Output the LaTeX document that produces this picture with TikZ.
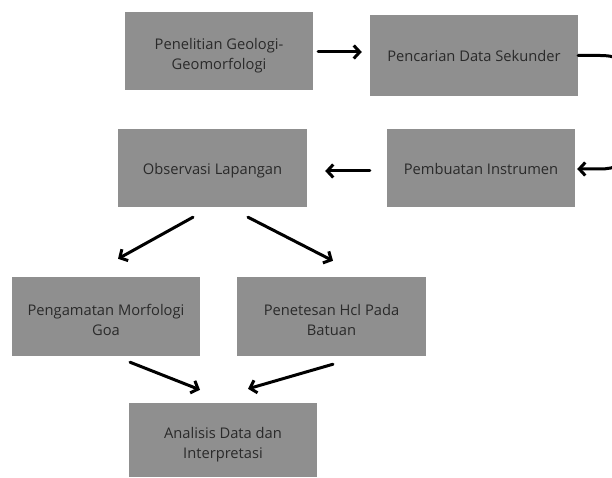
\documentclass[tikz,border=0pt]{standalone}
\usepackage{fontspec}
\setmainfont{Open Sans}
\usetikzlibrary{arrows.meta,calc}
\definecolor{boxgray}{HTML}{8F8F8F}
\definecolor{txtgray}{HTML}{2A2A2A}
\tikzset{
  box/.style={fill=boxgray, draw=none, inner sep=0pt, align=center,
    text=txtgray, font=\fontsize{14.7}{20}\selectfont,
    text height=16.5pt, text depth=3.5pt},
  boxtwo/.style={box, text height=41pt, text depth=3.5pt},
  conn/.style={line width=3pt, black, line cap=round, line join=round,
    -{Straight Barb[length=6pt,width=13pt,line width=3pt]}}
}
\begin{document}
\begin{tikzpicture}[x=1pt,y=-1pt]
\useasboundingbox (0,0) rectangle (612,478);
\fill[white] (0,0) rectangle (612,478);
\node[boxtwo, minimum width=188pt, minimum height=78pt] (b1) at (219,51) {Penelitian Geologi-\\Geomorfologi};
\node[box, minimum width=208pt, minimum height=81pt] (b2) at (474,55.5) {Pencarian Data Sekunder};
\node[box, minimum width=189pt, minimum height=78pt] (b3) at (212.5,168) {Observasi Lapangan};
\node[box, minimum width=188pt, minimum height=78pt] (b4) at (481,168) {Pembuatan Instrumen};
\node[boxtwo, minimum width=188pt, minimum height=79pt] (b5) at (106,316.5) {Pengamatan Morfologi\\Goa};
\node[boxtwo, minimum width=189pt, minimum height=79pt] (b6) at (331.5,316.5) {Penetesan Hcl Pada\\Batuan};
\node[boxtwo, minimum width=188pt, minimum height=74pt] (b7) at (223,440) {Analisis Data dan\\Interpretasi};

\draw[conn, shorten <=5pt, shorten >=8pt] ([yshift=-1pt]b1.east) -- ([yshift=-1pt]b1.east -| b2.west);
\draw[conn, shorten <=17pt, shorten >=18pt] ([yshift=-3pt]b4.west) -- ([yshift=-3pt]b4.west -| b3.east);
\draw[conn] (b2.east) -- ++(22,0) .. controls +(20,0) and (628,62) .. (628,85) -- (628,150)
   .. controls (628,164) and (615,169) .. (600,169) -- ([xshift=2pt,yshift=-1pt]b4.east);
\draw[conn] ([xshift=-19.5pt,yshift=-10pt]b3.south) -- ([xshift=12pt,yshift=18pt]b5.north);
\draw[conn] ([xshift=35.5pt,yshift=-10pt]b3.south) -- ([xshift=1.5pt,yshift=16pt]b6.north);
\draw[conn] ([xshift=24pt,yshift=-6pt]b5.south) -- ([xshift=-23pt,yshift=13pt]b7.north);
\draw[conn] ([xshift=1.5pt,yshift=-8pt]b6.south) -- ([xshift=25pt,yshift=14pt]b7.north);
\end{tikzpicture}
\end{document}
